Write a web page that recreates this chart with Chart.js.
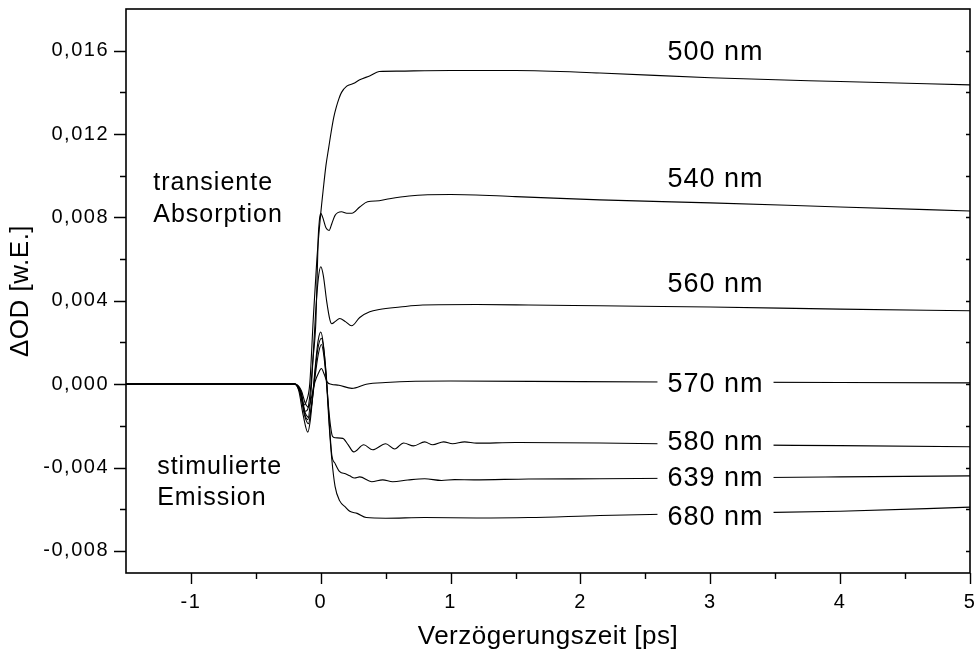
<!DOCTYPE html>
<html>
<head>
<meta charset="utf-8">
<script src="https://cdn.jsdelivr.net/npm/chart.js@4.4.0/dist/chart.umd.min.js"></script>
<style>
  html, body { margin: 0; padding: 0; background: #fff; }
</style>
</head>
<body>
<canvas id="c" width="975" height="653"></canvas>
<script>
// delay times [ps] and dOD values
var t500 = [-1.5, -0.2, -0.16, -0.13, -0.11, -0.085, -0.058, -0.03, 0, 0.02, 0.04, 0.06, 0.08, 0.1, 0.12, 0.14, 0.16, 0.2, 0.25, 0.3, 0.38, 0.45, 0.6, 0.8, 1.0, 1.5, 2.15, 3.0, 4.0, 5.0];
var v500 = [0, 0, -0.0003, -0.0010, -0.0008, 0, 0.0031, 0.0060, 0.0082, 0.0094, 0.0105, 0.0113, 0.0121, 0.0128, 0.0133, 0.0137, 0.0140, 0.0143, 0.01442, 0.0146, 0.0148, 0.0150, 0.01502, 0.01504, 0.01505, 0.01505, 0.01493, 0.0147, 0.01452, 0.01436];

var t540 = [-1.5, -0.2, -0.15, -0.12, -0.1, -0.08, -0.06, -0.037, -0.02, -0.01, 0, 0.015, 0.04, 0.064, 0.085, 0.11, 0.16, 0.2, 0.24, 0.3, 0.36, 0.45, 0.53, 0.68, 1.0, 1.5, 2.15, 3.0, 4.0, 5.0];
var v540 = [0, 0, -0.0004, -0.0013, -0.0012, -0.0003, 0.0012, 0.0031, 0.0070, 0.0079, 0.0082, 0.0080, 0.0075, 0.00737, 0.0077, 0.0081, 0.00827, 0.0082, 0.0082, 0.0085, 0.00875, 0.0088, 0.0089, 0.00903, 0.0091, 0.0090, 0.00884, 0.0087, 0.0085, 0.00831];

var t560 = [-1.5, -0.2, -0.15, -0.12, -0.1, -0.08, -0.06, -0.04, -0.02, 0, 0.02, 0.045, 0.07, 0.085, 0.11, 0.146, 0.19, 0.238, 0.3, 0.377, 0.45, 0.61, 0.785, 1.2, 1.6, 2.15, 3.0, 4.0, 5.0];
var v560 = [0, 0, -0.0005, -0.0015, -0.0017, -0.0008, 0.0012, 0.0034, 0.0050, 0.00563, 0.0052, 0.0040, 0.0031, 0.0029, 0.0030, 0.00315, 0.0030, 0.0028, 0.0032, 0.00347, 0.00358, 0.0037, 0.0038, 0.00382, 0.0038, 0.00376, 0.0037, 0.0036, 0.00352];

var t570 = [-1.5, -0.2, -0.15, -0.12, -0.095, -0.07, -0.045, -0.02, 0.005, 0.025, 0.05, 0.08, 0.14, 0.24, 0.35, 0.5, 1.0, 2.0, 3.0, 4.0, 5.0];
var v570 = [0, 0, -0.0003, -0.0009, -0.0011, -0.0006, 0.0001, 0.0005, 0.00075, 0.0005, 0.0001, 0, -0.00005, -0.0002, 0, 0.00008, 0.00015, 0.00012, 0.0001, 0.00008, 0.00006];

var t580 = [-1.5, -0.2, -0.17, -0.135, -0.1, -0.08, -0.06, -0.04, -0.02, 0, 0.02, 0.04, 0.06, 0.075, 0.09, 0.11, 0.17, 0.21, 0.254, 0.331, 0.4, 0.5, 0.569, 0.638, 0.715, 0.8, 0.862, 0.946, 1.015, 1.108, 1.2, 1.5, 2.15, 3.0, 4.0, 5.0];
var v580 = [0, 0, -0.0003, -0.0015, -0.0023, -0.0017, -0.0004, 0.0010, 0.0021, 0.0025, 0.0019, 0.0005, -0.0011, -0.0020, -0.0025, -0.00257, -0.0026, -0.0029, -0.00325, -0.00291, -0.00315, -0.00286, -0.00311, -0.00282, -0.00296, -0.00277, -0.00291, -0.00277, -0.00286, -0.00277, -0.00283, -0.0028, -0.00282, -0.0029, -0.00295, -0.0030];

var t639 = [-1.5, -0.2, -0.16, -0.125, -0.095, -0.075, -0.05, -0.025, 0.005, 0.025, 0.045, 0.065, 0.085, 0.11, 0.146, 0.19, 0.223, 0.26, 0.3, 0.392, 0.477, 0.554, 0.67, 0.8, 0.93, 1.03, 1.18, 1.6, 2.15, 3.0, 4.0, 5.0];
var v639 = [0, 0, -0.0004, -0.0015, -0.0019, -0.0012, 0.0002, 0.0016, 0.0022, 0.0016, 0.0002, -0.0018, -0.0034, -0.0038, -0.0042, -0.0043, -0.0044, -0.0045, -0.00445, -0.00468, -0.00459, -0.00468, -0.0046, -0.00454, -0.00462, -0.00458, -0.00459, -0.00455, -0.00454, -0.0045, -0.00445, -0.0044];

var t680 = [-1.5, -0.2, -0.16, -0.125, -0.09, -0.07, -0.045, -0.02, 0.005, 0.025, 0.045, 0.065, 0.085, 0.11, 0.146, 0.19, 0.223, 0.28, 0.35, 0.5, 0.8, 1.2, 1.6, 2.15, 3.0, 4.0, 5.0];
var v680 = [0, 0, -0.0004, -0.0013, -0.0016, -0.0010, 0.0003, 0.0014, 0.0019, 0.0013, 0, -0.0020, -0.0036, -0.0049, -0.0056, -0.0059, -0.0061, -0.0062, -0.0064, -0.00643, -0.0064, -0.00642, -0.0064, -0.0063, -0.0062, -0.0061, -0.0059];

var seriesNames = ['500 nm', '540 nm', '560 nm', '570 nm', '580 nm', '639 nm', '680 nm'];
var seriesTimes = [t500, t540, t560, t570, t580, t639, t680];
var seriesValues = [v500, v540, v560, v570, v580, v639, v680];

// tick positions (labelled: whole ps / multiples of 0.004)
var xTickValues = [-1.5, -1, -0.5, 0, 0.5, 1, 1.5, 2, 2.5, 3, 3.5, 4, 4.5, 5];
var yTickValues = [-0.008, -0.006, -0.004, -0.002, 0, 0.002, 0.004, 0.006, 0.008, 0.010, 0.012, 0.014, 0.016];

var xTitle = 'Verzögerungszeit [ps]';
var yTitle = '\u0394OD [w.E.]';

var FONT = "'Liberation Sans', Arial, sans-serif";

function points(ts, vs){
	var out = [];
	for(var i = 0; i < ts.length; i++){
		out.push({x: ts[i], y: vs[i]});
	}
	return out;
}

var datasets = [];
for(var k = 0; k < seriesNames.length; k++){
	datasets.push({
		label: seriesNames[k],
		data: points(seriesTimes[k], seriesValues[k]),
		borderColor: '#000',
		borderWidth: 1.1,
		pointRadius: 0,
		cubicInterpolationMode: 'monotone',
		fill: false
	});
}

// curve labels: position in data units, boxed ones sit on top of their line
var curveLabels = [
	{text: '500 nm', x: 3.04, y: 0.01589, box: false},
	{text: '540 nm', x: 3.04, y: 0.0098, box: false},
	{text: '560 nm', x: 3.04, y: 0.00476, box: false},
	{text: '570 nm', x: 3.04, y: 0.0, box: true},
	{text: '580 nm', x: 3.04, y: -0.00278, box: true},
	{text: '639 nm', x: 3.04, y: -0.00451, box: true},
	{text: '680 nm', x: 3.04, y: -0.00638, box: true}
];
var noteLabels = [
	{text: 'transiente', x: -1.29, y: 0.00966},
	{text: 'Absorption', x: -1.29, y: 0.00812},
	{text: 'stimulierte', x: -1.26, y: -0.00397},
	{text: 'Emission', x: -1.26, y: -0.00545}
];

function near(v, step){
	var q = v / step;
	return Math.abs(q - Math.round(q)) < 1e-6;
}

var frame = {
	id: 'frame',
	beforeDraw: function(chart){
		chart.ctx.letterSpacing = '0.5px';
	},
	afterDatasetsDraw: function(chart){
		var ctx = chart.ctx, a = chart.chartArea, xs = chart.scales.x, ys = chart.scales.y;
		ctx.save();
		ctx.strokeStyle = '#000';
		ctx.lineWidth = 1.6;
		ctx.strokeRect(a.left, a.top, a.right - a.left, a.bottom - a.top);

		ctx.lineWidth = 1.4;
		ctx.beginPath();
		xs.ticks.forEach(function(t){
			var v = t.value;
			if(v <= xs.min + 1e-9) return;
			var len = near(v, 1) ? 11 : 6;
			var px = Math.round(xs.getPixelForValue(v)) + 0.5;
			ctx.moveTo(px, a.bottom);
			ctx.lineTo(px, a.bottom + len);
		});
		ys.ticks.forEach(function(t){
			var v = t.value;
			var len = near(v, 0.004) ? 12 : 6;
			var py = Math.round(ys.getPixelForValue(v)) + 0.5;
			ctx.moveTo(a.left, py);
			ctx.lineTo(a.left - len, py);
			ctx.moveTo(a.right, py);
			ctx.lineTo(a.right - 4, py);
		});
		ctx.stroke();

		ctx.fillStyle = '#000';
		ctx.textBaseline = 'middle';
		ctx.letterSpacing = '1px';
		ctx.font = '27px ' + FONT;
		ctx.textAlign = 'center';
		curveLabels.forEach(function(l){
			var px = xs.getPixelForValue(l.x), py = ys.getPixelForValue(l.y);
			if(l.box){
				var w = ctx.measureText(l.text).width + 20;
				ctx.fillStyle = '#fff';
				ctx.fillRect(px - w / 2, py - 14, w, 28);
				ctx.fillStyle = '#000';
			}
			ctx.fillText(l.text, px, py);
		});
		ctx.font = '25px ' + FONT;
		ctx.textAlign = 'left';
		noteLabels.forEach(function(l){
			ctx.fillText(l.text, xs.getPixelForValue(l.x), ys.getPixelForValue(l.y));
		});
		ctx.restore();
		// tick labels are drawn after this hook (ticks.z = 1)
		ctx.letterSpacing = '1.5px';
	},
	afterDraw: function(chart){
		chart.ctx.letterSpacing = '0px';
	}
};

var chart = new Chart(document.getElementById('c'), {
	type: 'line',
	data: {datasets: datasets},
	plugins: [frame],
	options: {
		responsive: false,
		animation: false,
		devicePixelRatio: 1,
		layout: {padding: {top: 9, right: 5, left: 0, bottom: 0}},
		plugins: {legend: {display: false}, tooltip: {enabled: false}},
		scales: {
			x: {
				type: 'linear',
				min: -1.5,
				max: 5,
				grid: {display: false, drawTicks: false},
				border: {display: false},
				ticks: {
					autoSkip: false,
					maxRotation: 0,
					padding: 17,
					z: 1,
					color: '#000',
					font: {family: FONT, size: 20},
					callback: function(v){ return near(v, 1) ? String(Math.round(v)) : ''; }
				},
				title: {
					display: true,
					text: xTitle,
					color: '#000',
					font: {family: FONT, size: 26},
					padding: {top: 0, bottom: 1}
				},
				afterBuildTicks: function(s){
					s.ticks = xTickValues.map(function(v){ return {value: v}; });
				},
				afterFit: function(s){ s.height = 80; s.paddingLeft = 0; s.paddingRight = 0; }
			},
			y: {
				type: 'linear',
				min: -0.00906,
				max: 0.018,
				grid: {display: false, drawTicks: false},
				border: {display: false},
				ticks: {
					autoSkip: false,
					padding: 17,
					z: 1,
					color: '#000',
					font: {family: FONT, size: 20},
					callback: function(v){ return near(v, 0.004) ? v.toFixed(3).replace('.', ',') : ''; }
				},
				title: {
					display: true,
					text: yTitle,
					color: '#000',
					font: {family: FONT, size: 26},
					padding: {top: 5, bottom: 0}
				},
				afterBuildTicks: function(s){
					s.ticks = yTickValues.map(function(v){ return {value: v}; });
				},
				afterFit: function(s){ s.width = 126; s.paddingTop = 0; s.paddingBottom = 0; }
			}
		}
	}
});
</script>
</body>
</html>
